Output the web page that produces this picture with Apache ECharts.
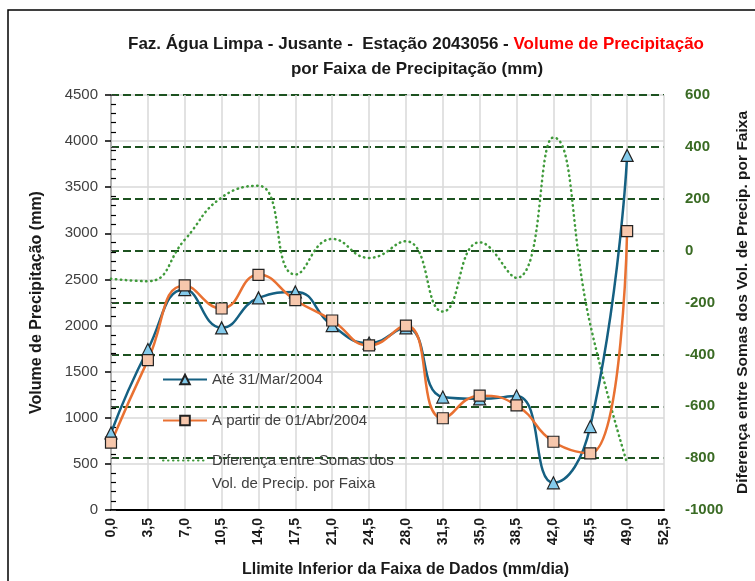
<!DOCTYPE html>
<html>
<head>
<meta charset="utf-8">
<script src="https://cdn.jsdelivr.net/npm/echarts@6/dist/echarts.min.js"></script>
<style>
  html, body { margin: 0; padding: 0; background: #fff; }
  #chart { width: 755px; height: 581px; }
</style>
</head>
<body>
<div id="chart"></div>
<script>
// lower limit of each precipitation band (mm/dia)
const faixas = [0, 3.5, 7, 10.5, 14, 17.5, 21, 24.5, 28, 31.5, 35, 38.5, 42, 45.5, 49];
// volume per band (mm)
const ateMar2004 = [835, 1740, 2390, 1975, 2300, 2365, 2000, 1810, 1975, 1225, 1205, 1235, 295, 905, 3845];
const aPartirAbr2004 = [730, 1625, 2435, 2185, 2550, 2275, 2055, 1785, 2000, 995, 1240, 1135, 740, 615, 3025];
// difference between sums (right axis)
const diferenca = [-108, -118, 42, 205, 250, -92, 45, -28, 36, -235, 32, -105, 436, -285, -820];

const NAMES = ['Até 31/Mar/2004', 'A partir de 01/Abr/2004', 'Diferença entre Somas dos\nVol. de Precip. por Faixa'];
const narrow = "'Liberation Sans Narrow', 'Liberation Sans', Arial, sans-serif";
const sans = "'Liberation Sans', Arial, sans-serif";
const darkGreen = '#1d5220';

const pairs = arr => faixas.map((x, i) => [x, arr[i]]);
const fmtX = v => v.toFixed(1).replace('.', ',');
const legendText = {fontFamily: sans, fontSize: 15, color: '#404040', lineHeight: 23};

const chart = echarts.init(document.getElementById('chart'), null, {renderer: 'canvas'});

chart.setOption({
  animation: false,
  backgroundColor: '#fff',
  graphic: [{
    type: 'rect', silent: true, z: -10,
    shape: {x: 8, y: 10, width: 800, height: 700},
    style: {fill: 'none', stroke: '#000', lineWidth: 1.5},
  }],
  title: [{
    left: 411, top: 31, textAlign: 'center',
    text: '{a|Faz. Água Limpa - Jusante -  Estação 2043056 - }{r|Volume de Precipitação}',
    textStyle: {
      rich: {
        a: {fontFamily: narrow, fontSize: 17, fontWeight: 'bold', color: '#1a1a1a'},
        r: {fontFamily: narrow, fontSize: 17, fontWeight: 'bold', color: '#ff0000'},
      },
    },
  }, {
    left: 412, top: 56, textAlign: 'center',
    text: 'por Faixa de Precipitação (mm)',
    textStyle: {fontFamily: narrow, fontSize: 17, fontWeight: 'bold', color: '#1a1a1a'},
  }],
  grid: {left: 111, right: 91, top: 95, bottom: 71, containLabel: false, outerBoundsMode: 'none'},
  legend: [{
    orient: 'vertical',
    left: 157, top: 363,
    itemWidth: 44, itemHeight: 12, itemGap: 18,
    data: [NAMES[0], NAMES[1]],
    textStyle: legendText,
  }, {
    // own legend so the icon sits on the first text line
    orient: 'vertical',
    left: 157, top: 421,
    itemWidth: 44, itemHeight: 12,
    data: [{name: NAMES[2], itemStyle: {opacity: 0}}],
    formatter: n => '\n' + n,
    textStyle: legendText,
  }],
  xAxis: [{
    type: 'value',
    min: 0, max: 52.5, interval: 3.5,
    name: 'Llimite Inferior da Faixa de Dados (mm/dia)',
    nameLocation: 'middle', nameGap: 52,
    nameTextStyle: {fontFamily: narrow, fontSize: 16, fontWeight: 'bold', color: '#1a1a1a', padding: [0, 0, 0, 36]},
    axisLine: {show: true, onZero: false, lineStyle: {color: '#404040', width: 1}},
    axisTick: {show: false},
    axisLabel: {
      rotate: 90, margin: 8, showMinLabel: true, showMaxLabel: true,
      fontFamily: narrow, fontSize: 14, fontWeight: 'bold', color: '#1a1a1a',
      formatter: fmtX,
    },
    splitLine: {show: true, lineStyle: {color: '#d9d9d9', width: 1.5}},
  }, {
    type: 'value', position: 'top',
    min: 0, max: 52.5, interval: 3.5,
    axisLine: {show: true, lineStyle: {color: '#000', width: 2}},
    axisTick: {show: false}, axisLabel: {show: false}, splitLine: {show: false},
  }],
  yAxis: [{
    type: 'value', position: 'left',
    min: 0, max: 4500, interval: 500,
    name: 'Volume de Precipitação (mm)',
    nameLocation: 'middle', nameGap: 66,
    nameTextStyle: {fontFamily: sans, fontSize: 16, fontWeight: 'bold', color: '#1a1a1a'},
    axisLine: {show: true, lineStyle: {color: '#000', width: 1.5}},
    axisTick: {show: true, length: 6, lineStyle: {color: '#000', width: 1.5}},
    axisLabel: {margin: 13, fontFamily: sans, fontSize: 15, color: '#404040', formatter: v => String(v)},
    splitLine: {show: true, lineStyle: {color: '#d9d9d9', width: 1.5}},
  }, {
    type: 'value', position: 'right',
    min: -1000, max: 600, interval: 200,
    name: 'Diferença entre Somas dos Vol. de Precip. por Faixa',
    nameLocation: 'middle', nameGap: 70, nameRotate: 90,
    nameTextStyle: {fontFamily: sans, fontSize: 15.5, fontWeight: 'bold', color: '#1a1a1a'},
    axisLine: {show: true, lineStyle: {color: '#d9d9d9', width: 1.5}},
    axisTick: {show: true, length: 5, lineStyle: {color: '#404040'}},
    axisLabel: {margin: 21, fontFamily: sans, fontSize: 15, fontWeight: 'bold', color: '#3a6b24', formatter: v => String(v)},
    splitLine: {show: true, lineStyle: {color: darkGreen, width: 2, type: [8, 4]}},
  }, {
    // minor ticks on the inside of the left axis
    type: 'value', position: 'left',
    min: 0, max: 4500, interval: 500,
    axisLine: {show: false},
    axisTick: {show: false, inside: true},
    minorTick: {show: true, splitNumber: 5, length: 5, lineStyle: {color: '#000', width: 1.2}},
    axisLabel: {show: false}, splitLine: {show: false},
  }],
  series: [{
    name: NAMES[2],
    type: 'line', yAxisIndex: 1,
    data: pairs(diferenca),
    smooth: 0.5,
    symbol: 'none',
    lineStyle: {color: '#3f9a3a', width: 2.5, type: [0.5, 4.5], cap: 'round'},
    itemStyle: {color: '#3f9a3a'},
  }, {
    name: NAMES[0],
    type: 'line', yAxisIndex: 0,
    data: pairs(ateMar2004),
    smooth: 0.5,
    symbol: 'triangle', symbolSize: 12,
    lineStyle: {color: '#156082', width: 2.5},
    itemStyle: {color: '#83caeb', borderColor: '#222', borderWidth: 1.2},
  }, {
    name: NAMES[1],
    type: 'line', yAxisIndex: 0,
    data: pairs(aPartirAbr2004),
    smooth: 0.5,
    symbol: 'rect', symbolSize: 11,
    lineStyle: {color: '#e97132', width: 2.5},
    itemStyle: {color: '#f7c7ac', borderColor: '#222', borderWidth: 1.2},
  }],
});
</script>
</body>
</html>
